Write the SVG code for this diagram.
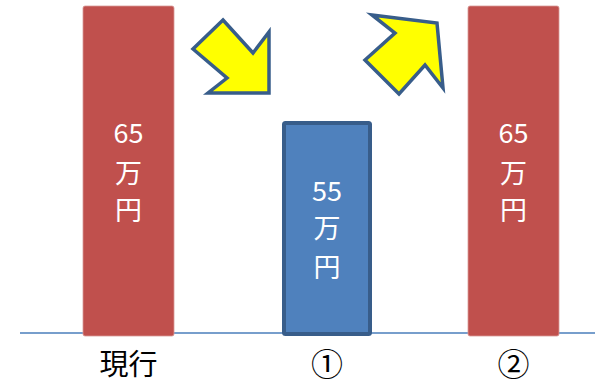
<svg xmlns="http://www.w3.org/2000/svg" width="595" height="384" viewBox="0 0 595 384">
<style>
.red{fill:#c0504d;stroke:#d89a98;stroke-width:0.8}
.blue{fill:#4f81bd;stroke:#385d8a;stroke-width:4}
.arrow{fill:#ffff00;stroke:#385d8a;stroke-width:3.5;stroke-linejoin:miter}
.in{font-family:"Noto Sans CJK JP","Noto Sans",sans-serif;font-size:27px;fill:#ffffff;text-anchor:middle}
.lab{font-family:"Noto Sans CJK JP","Noto Sans",sans-serif;font-size:29px;fill:#000000;text-anchor:middle}
.num{font-family:"Noto Sans CJK JP","Noto Sans",sans-serif;font-size:32px;fill:#000000;text-anchor:middle}
</style>
<g id="connectors">
<line x1="20" y1="333" x2="595" y2="333" stroke="#4a7ebb" stroke-width="1.5"/>
<polygon class="arrow" points="223,20 253,53 269,32 269,93 208,93 227,78 193,49"/>
<polygon class="arrow" points="372,15 437,23 443,88 425,65 399,94 365,60 395,33"/>
</g>
<g id="current">
<rect class="red" x="83" y="6" width="91" height="330" rx="2"/>
<text class="in" x="128.5" y="143">65</text>
<text class="in" x="128.5" y="183">万</text>
<text class="in" x="128.5" y="220">円</text>
<text class="lab" x="128.5" y="375">現行</text>
</g>
<g id="option1">
<rect class="blue" x="284" y="123" width="86" height="211" rx="1.5"/>
<text class="in" x="327" y="201">55</text>
<text class="in" x="327" y="238">万</text>
<text class="in" x="327" y="277">円</text>
<text class="num" x="327" y="376">①</text>
</g>
<g id="option2">
<rect class="red" x="468" y="6" width="91" height="330" rx="2"/>
<text class="in" x="513.5" y="143">65</text>
<text class="in" x="513.5" y="183">万</text>
<text class="in" x="513.5" y="220">円</text>
<text class="num" x="513.5" y="376">②</text>
</g>
</svg>
